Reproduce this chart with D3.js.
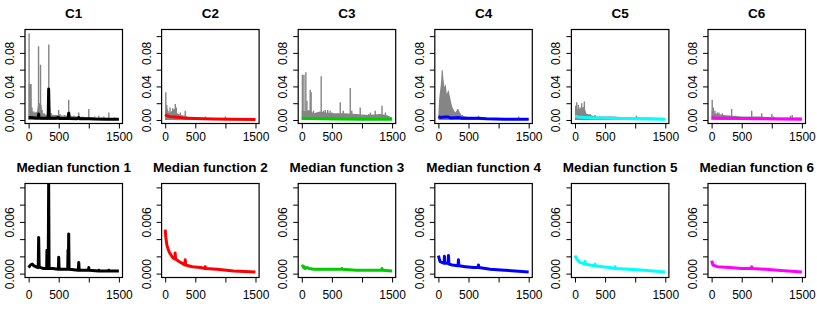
<!DOCTYPE html>
<html>
<head>
<meta charset="utf-8">
<script src="https://d3js.org/d3.v7.min.js"></script>
<style>
body { margin: 0; background: #fff; }
text { font-family: "Liberation Sans", Arial, sans-serif; }
</style>
</head>
<body>
<svg id="chart" width="817" height="310"></svg>

<script>
var topTitles = ["C1", "C2", "C3", "C4", "C5", "C6"];
var bottomTitles = ["Median function 1", "Median function 2", "Median function 3",
                    "Median function 4", "Median function 5", "Median function 6"];
var colors = ["#000000", "#FF0000", "#00CD00", "#0000FF", "#00FFFF", "#FF00FF"];

var xTicks = [0, 500, 1000, 1500];
var xTickLabels = ["0", "500", "", "1500"];
var yTicksTop = [0, 0.02, 0.04, 0.06, 0.08, 0.10];
var yLabelsTop = ["0.00", "", "0.04", "", "0.08", ""];
var yTicksBottom = [0, 0.002, 0.004, 0.006, 0.008, 0.010];
var yLabelsBottom = ["0.000", "", "", "0.006", "", ""];

// gray curves of each cluster: dense band + spikes
var c1Band = [[0,0.043],[40,0.043],[48,0.012],[90,0.008],[140,0.010],[160,0.020],[215,0.018],[225,0.008],[300,0.006],[320,0.012],[350,0.012],[360,0.006],[500,0.006],[600,0.005],[700,0.005],[800,0.004],[1000,0.003],[1200,0.003],[1400,0.002],[1500,0.002]];
var c1Spikes = [[8,0.103],[22,0.030],[40,0.043],[55,0.015],[90,0.010],[165,0.088],[180,0.020],[198,0.066],[225,0.012],[260,0.008],[335,0.090],[350,0.015],[380,0.008],[500,0.012],[520,0.007],[600,0.006],[666,0.024],[680,0.010],[760,0.005],[833,0.009],[900,0.004],[1000,0.013],[1100,0.004],[1165,0.005],[1250,0.004],[1333,0.009],[1420,0.003]];
var c2Band = [[0,0.012],[30,0.015],[60,0.008],[100,0.010],[130,0.012],[170,0.014],[200,0.008],[250,0.006],[340,0.005],[400,0.003],[600,0.002],[800,0.002],[1000,0.0015],[1500,0.0015]];
var c2Spikes = [[10,0.033],[25,0.018],[45,0.011],[80,0.015],[125,0.014],[167,0.019],[185,0.015],[250,0.009],[333,0.011],[666,0.004],[1000,0.004]];
var c3Band = [[0,0.012],[60,0.010],[120,0.012],[200,0.008],[300,0.010],[400,0.009],[500,0.008],[700,0.008],[900,0.007],[1100,0.006],[1300,0.007],[1400,0.006],[1500,0.003]];
var c3Spikes = [[10,0.054],[35,0.054],[67,0.057],[85,0.023],[139,0.036],[155,0.033],[195,0.011],[322,0.052],[360,0.011],[390,0.012],[430,0.012],[470,0.011],[500,0.009],[639,0.021],[690,0.011],[805,0.038],[830,0.011],[970,0.015],[1110,0.007],[1140,0.009],[1220,0.011],[1332,0.017],[1390,0.009]];
var c4Band = [[0,0.008],[10,0.023],[28,0.035],[44,0.045],[55,0.060],[72,0.059],[83,0.049],[100,0.039],[122,0.043],[139,0.031],[167,0.036],[194,0.027],[211,0.021],[233,0.015],[278,0.009],[322,0.013],[390,0.005],[450,0.004],[550,0.003],[800,0.0025],[1000,0.002],[1500,0.0015]];
var c4Spikes = [[322,0.013],[400,0.006],[666,0.005],[1333,0.004]];
var c5Band = [[0,0.016],[50,0.012],[100,0.014],[160,0.016],[180,0.008],[250,0.006],[350,0.004],[600,0.004],[900,0.003],[1200,0.003],[1500,0.0025]];
var c5Spikes = [[11,0.017],[28,0.021],[55,0.018],[83,0.015],[111,0.020],[128,0.014],[155,0.022],[172,0.010],[250,0.007],[333,0.006],[650,0.004],[1020,0.005]];
var c6Band = [[0,0.012],[30,0.008],[100,0.007],[200,0.006],[350,0.005],[500,0.004],[800,0.004],[1100,0.003],[1500,0.003]];
var c6Spikes = [[10,0.024],[28,0.015],[55,0.011],[94,0.009],[122,0.009],[178,0.008],[333,0.013],[400,0.005],[666,0.011],[833,0.008],[1000,0.007],[1030,0.004],[1310,0.005],[1340,0.006]];

// coloured curve of each cluster (top row)
var c1Line = [[0,0.003],[50,0.003],[100,0.0025],[160,0.0025],[167,0.007],[175,0.0025],[250,0.002],[325,0.002],[333,0.037],[342,0.002],[450,0.002],[500,0.003],[510,0.0018],[655,0.0018],[666,0.008],[677,0.0018],[800,0.0015],[833,0.003],[845,0.0015],[1000,0.0015],[1100,0.0012],[1300,0.001],[1500,0.001]];
var c2Line = [[0,0.0065],[30,0.005],[80,0.004],[167,0.0035],[300,0.0025],[500,0.0018],[800,0.0012],[1100,0.0008],[1500,0.0005]];
var c3Line = [[0,0.002],[300,0.0015],[600,0.0012],[1000,0.001],[1500,0.0008]];
var c4Line = [[0,0.004],[30,0.003],[100,0.0035],[167,0.0035],[200,0.0025],[333,0.003],[400,0.002],[666,0.0022],[800,0.0015],[1100,0.001],[1500,0.0008]];
var c5Line = [[0,0.0045],[50,0.0035],[167,0.003],[333,0.0025],[600,0.002],[1000,0.0015],[1500,0.001]];
var c6Line = [[0,0.003],[50,0.0025],[300,0.002],[700,0.0015],[1100,0.0012],[1500,0.001]];

// median functions (bottom row)
var med1 = [[0,0.0007],[30,0.0010],[60,0.0011],[90,0.0009],[120,0.0008],[160,0.0007],[167,0.0042],[175,0.0008],[200,0.0007],[250,0.0006],[300,0.0006],[305,0.0027],[312,0.0006],[326,0.0006],[333,0.0105],[340,0.0006],[400,0.0006],[495,0.0005],[500,0.0019],[507,0.0005],[650,0.0005],[655,0.0027],[660,0.0005],[666,0.0046],[672,0.0005],[825,0.0004],[833,0.0013],[840,0.0004],[995,0.0004],[1000,0.0007],[1005,0.0004],[1160,0.0003],[1165,0.0004],[1170,0.0003],[1330,0.0003],[1333,0.0004],[1338,0.0003],[1500,0.0003]];
var med2 = [[0,0.0051],[10,0.0042],[28,0.0033],[55,0.0027],[83,0.0023],[120,0.0019],[160,0.0017],[165,0.0024],[172,0.0017],[230,0.0014],[305,0.0011],[328,0.0010],[333,0.0016],[340,0.0010],[450,0.0008],[583,0.0007],[662,0.0006],[666,0.0008],[672,0.0006],[860,0.0005],[1138,0.0003],[1500,0.0002]];
var med3 = [[0,0.0008],[15,0.0009],[30,0.0007],[45,0.0008],[60,0.0006],[90,0.0007],[120,0.0006],[200,0.0005],[333,0.0005],[500,0.0005],[662,0.0005],[666,0.0006],[672,0.0005],[900,0.0004],[1200,0.0004],[1325,0.0004],[1333,0.0006],[1340,0.0004],[1500,0.0003]];
var med4 = [[0,0.0021],[15,0.0017],[28,0.0014],[60,0.0013],[95,0.0012],[100,0.0020],[105,0.0012],[160,0.0012],[167,0.0021],[175,0.0011],[230,0.0010],[325,0.0009],[333,0.0016],[340,0.0009],[450,0.0008],[583,0.0007],[660,0.0007],[666,0.0010],[672,0.0007],[860,0.0005],[1100,0.0004],[1500,0.0002]];
var med5 = [[0,0.0021],[28,0.0017],[83,0.0013],[160,0.0011],[167,0.0014],[175,0.0011],[250,0.0010],[325,0.0009],[333,0.0011],[340,0.0009],[450,0.0008],[583,0.0007],[660,0.0006],[666,0.0008],[672,0.0006],[900,0.0005],[1150,0.0004],[1500,0.0002]];
var med6 = [[0,0.0015],[22,0.0010],[94,0.0008],[300,0.0007],[500,0.0006],[660,0.0006],[666,0.0008],[672,0.0006],[900,0.0005],[1100,0.0004],[1500,0.0002]];

var bands = [c1Band, c2Band, c3Band, c4Band, c5Band, c6Band];
var spikes = [c1Spikes, c2Spikes, c3Spikes, c4Spikes, c5Spikes, c6Spikes];
var clusterLines = [c1Line, c2Line, c3Line, c4Line, c5Line, c6Line];
var medians = [med1, med2, med3, med4, med5, med6];

var colW = 136.6, plotW = 97.5, plotH = 94, firstLeft = 25;
var topRowY = 29.5, bottomRowY = 183.5;
var gray = "#858585";

var svg = d3.select("#chart");

function panel(i, rowY, yDomain, yTicks, yLabels, title, key, xPad) {
	var left = firstLeft + i * colW;
	var g = svg.append("g").attr("transform", "translate(" + left + "," + rowY + ")");

	var x = d3.scaleLinear().domain([-60, 1560]).range([0, plotW]);
	var y = d3.scaleLinear().domain(yDomain).range([plotH, 0]);

	var clipId = "clip" + key + i;
	g.append("clipPath").attr("id", clipId)
		.append("rect").attr("width", plotW).attr("height", plotH);

	var plot = g.append("g").attr("clip-path", "url(#" + clipId + ")");

	g.append("text")
		.attr("x", plotW / 2)
		.attr("y", -11.5)
		.attr("text-anchor", "middle")
		.style("font-size", "13.5px")
		.style("font-weight", "bold")
		.text(title);

	g.append("g")
		.attr("transform", "translate(0," + plotH + ")")
		.call(d3.axisBottom(x).tickValues(xTicks).tickSize(5).tickPadding(xPad)
			.tickFormat(function(d, k) { return xTickLabels[k]; }))
		.call(function(a) { a.select(".domain").remove(); })
		.selectAll("text").style("font-size", "12px");

	var ya = g.append("g")
		.call(d3.axisLeft(y).tickValues(yTicks).tickSize(5)
			.tickFormat(function(d, k) { return yLabels[k]; }));
	ya.select(".domain").remove();
	ya.selectAll("text")
		.attr("x", 0).attr("y", -11).attr("dy", 0)
		.attr("transform", "rotate(-90)")
		.attr("text-anchor", "middle")
		.style("font-size", "12px");

	g.selectAll(".tick line").attr("stroke", "#000");

	return { g: g, plot: plot, x: x, y: y };
}

function boxOf(p) {
	p.g.append("rect")
		.attr("width", plotW).attr("height", plotH)
		.attr("fill", "none").attr("stroke", "#000").attr("stroke-width", 1.2);
}

for (var i = 0; i < 6; i++) {
	// top row: cluster members in gray, cluster curve in colour
	var p = panel(i, topRowY, [-0.0042, 0.1079], yTicksTop, yLabelsTop, topTitles[i], "t", 4);

	p.plot.append("path")
		.datum(bands[i])
		.attr("fill", gray)
		.attr("d", d3.area()
			.x(function(d) { return p.x(d[0]); })
			.y0(p.y(0))
			.y1(function(d) { return p.y(d[1]); }));

	p.plot.selectAll(".spike")
		.data(spikes[i])
		.enter().append("line")
		.attr("x1", function(d) { return p.x(d[0]); })
		.attr("x2", function(d) { return p.x(d[0]); })
		.attr("y1", p.y(0))
		.attr("y2", function(d) { return p.y(d[1]); })
		.attr("stroke", gray)
		.attr("stroke-width", 1.4);

	p.plot.append("path")
		.datum(clusterLines[i])
		.attr("fill", "none")
		.attr("stroke", colors[i])
		.attr("stroke-width", 3)
		.attr("stroke-linejoin", "round")
		.attr("d", d3.line()
			.x(function(d) { return p.x(d[0]); })
			.y(function(d) { return p.y(d[1]); }));
	boxOf(p);

	// bottom row: median function
	var q = panel(i, bottomRowY, [-0.00045, 0.01045], yTicksBottom, yLabelsBottom, bottomTitles[i], "b", 8);

	q.plot.append("path")
		.datum(medians[i])
		.attr("fill", "none")
		.attr("stroke", colors[i])
		.attr("stroke-width", 3)
		.attr("stroke-linejoin", "round")
		.attr("d", d3.line()
			.x(function(d) { return q.x(d[0]); })
			.y(function(d) { return q.y(d[1]); }));
	boxOf(q);
}
</script>
</body>
</html>
